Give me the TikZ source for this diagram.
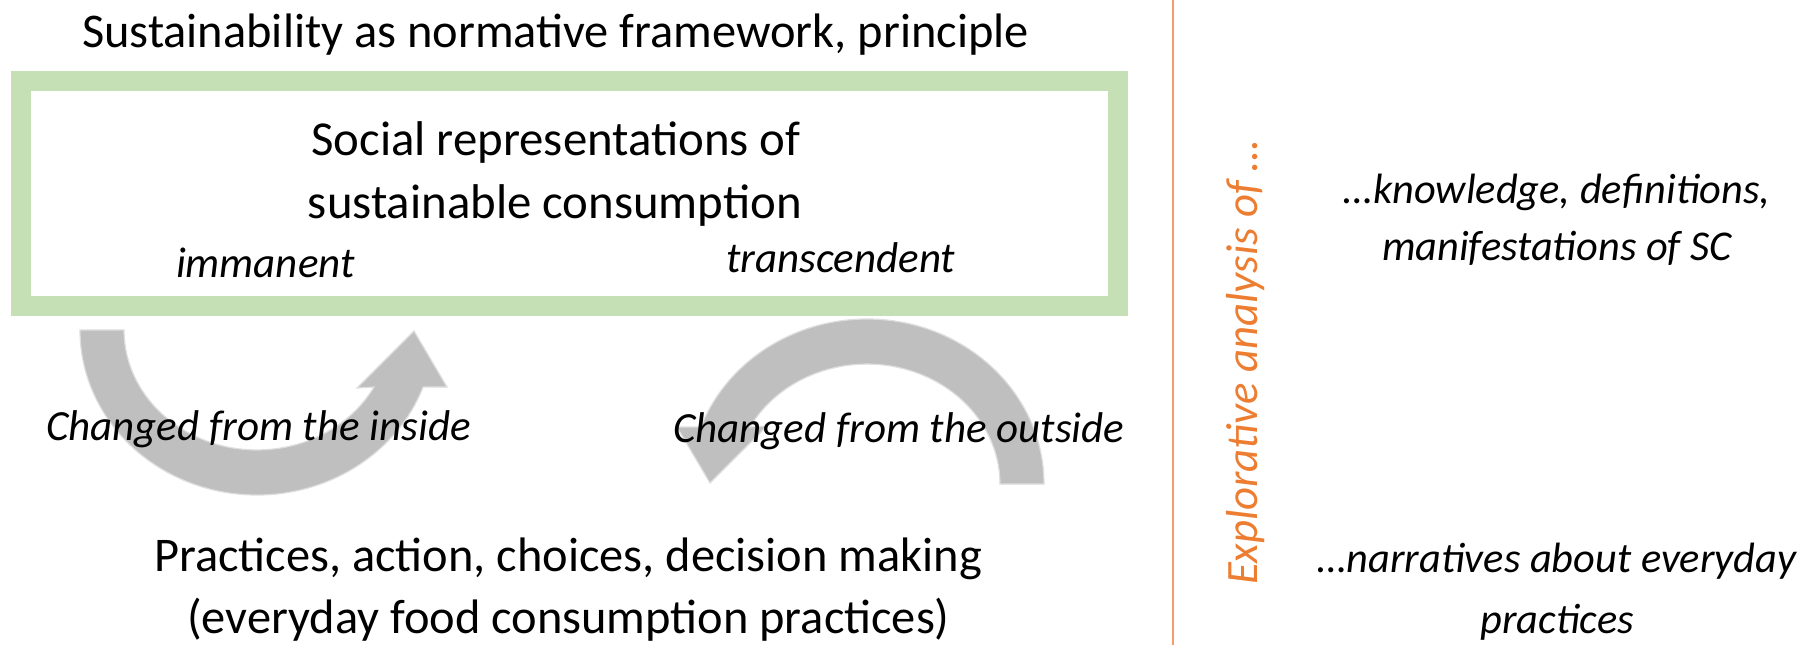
\documentclass[tikz,border=0pt]{standalone}
\usepackage{fontspec}
\setmainfont{Carlito}
\definecolor{framegreen}{RGB}{197,224,180}
\definecolor{arrowgray}{RGB}{191,191,191}
\definecolor{arrowedge}{RGB}{222,222,222}
\definecolor{accent}{RGB}{237,125,49}
\definecolor{divider}{RGB}{240,158,108}
% outline of one curved block arrow (tail top-left, head pointing up-right)
\newcommand\curvedarrowpath{(80,330) arc[start angle=180, end angle=20.2, x radius=177, y radius=165]
  -- (447,387) -- (414,331) -- (357,388) -- (374,387)
  arc[start angle=28.4, end angle=180, x radius=133, y radius=120] -- cycle}
\begin{document}
\begin{tikzpicture}[x=0.5pt, y=-0.5pt,
  txt/.style={inner sep=0pt, outer sep=0pt},
  bodytext/.style={txt, font=\fontsize{24.2pt}{29pt}\selectfont},
  boxtext/.style={txt, font=\fontsize{24.4pt}{29pt}\selectfont},
  itxt/.style={txt, font=\fontsize{21.5pt}{25pt}\selectfont\itshape},
  sidetext/.style={txt, font=\fontsize{21.2pt}{25pt}\selectfont\itshape},
  bigarrow/.style={fill=arrowgray, draw=arrowedge, line width=0.6pt},
  frame/.style={draw=framegreen, line width=10pt, inner sep=0pt, outer sep=0pt}
]
\useasboundingbox (0,0) rectangle (1812,645);
\fill[white] (0,0) rectangle (1812,645);

% title above the frame
\node[bodytext, anchor=base] (title) at (555.5,47) {Sustainability as normative framework, principle};

% green frame with its contents
\node[frame, minimum width=548.25pt, minimum height=112.5pt] (frame) at (569.25,193.5) {};
\node[boxtext, anchor=base] (srep1) at (556,155) {Social representations of};
\node[boxtext, anchor=base] (srep2) at (555,218) {sustainable consumption};
\node[itxt, anchor=base west] (imm) at (176,277) {immanent};
\node[itxt, anchor=base west] (trans) at (726,272) {transcendent};

% the two curved block arrows
\filldraw[bigarrow] \curvedarrowpath;
\filldraw[bigarrow, rotate around={180:(562,407)}] \curvedarrowpath;

\node[itxt, anchor=base east] (inside) at (471,440) {Changed from the inside};
\node[itxt, anchor=base west] (outside) at (673,442) {Changed from the outside};

% practices at the bottom
\node[bodytext, anchor=base] (prac1) at (568,571) {Practices, action, choices, decision making};
\node[bodytext, anchor=base] (prac2) at (568.5,633) {(everyday food consumption practices)};

% divider and analysis column
\coordinate (divtop) at (1173,0);
\coordinate (divbot) at (1173,645);
\draw[divider, line width=1.1pt] (divtop) -- (divbot);
\node[txt, font=\fontsize{22.4pt}{26pt}\selectfont\itshape, text=accent, rotate=90, anchor=base] (explore) at (1257,362.5) {Explorative analysis of …};

\node[sidetext, anchor=base] (know1) at (1557,203) {…knowledge, definitions,};
\node[sidetext, anchor=base] (know2) at (1557,260) {manifestations of SC};
\node[sidetext, anchor=base] (narr1) at (1557,572) {…narratives about everyday};
\node[sidetext, anchor=base] (narr2) at (1557,633) {practices};
\end{tikzpicture}
\end{document}
